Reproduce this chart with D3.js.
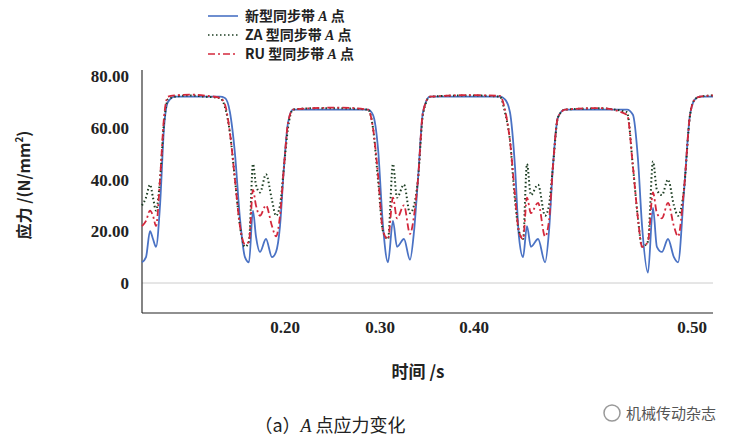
<!DOCTYPE html>
<html><head><meta charset="utf-8">
<script src="https://cdn.jsdelivr.net/npm/d3@7"></script>
<style>body{margin:0;background:#fff}svg{display:block}</style>
</head><body>
<script>
const times=[0.1000,0.1028,0.1056,0.1077,0.1098,0.1126,0.1154,0.1182,0.1231,0.1336,0.1441,0.1545,0.1580,0.1615,0.1650,0.1685,0.1720,0.1748,0.1776,0.1797,0.1825,0.1867,0.1909,0.1937,0.1965,0.1993,
0.2032,0.2084,0.2263,0.2579,0.2874,0.2926,0.2979,
0.3032,0.3085,0.3138,0.3181,0.3255,0.3319,0.3362,0.3404,0.3457,0.3532,0.3957,
0.4119,0.4142,0.4165,0.4188,0.4206,0.4225,0.4243,0.4261,0.4294,0.4326,0.4344,0.4362,0.4385,0.4417,0.4578,0.4702,0.4729,0.4752,0.4771,0.4798,0.4821,0.4839,0.4862,0.4890,0.4917,0.4936,0.4963,0.4991,
0.5014,0.5038,0.5100];
const newBelt=[8,10,20,17,14,30,60,70,72,72,72,72,71.5,66,50,25,10,8,28,18,12,17,10,12,22,45,
62,67,67,67,67,65,52,
22,8,24,14,17,9,20,40,66,72,72,
72,71,66,45,18,10,22,14,17,8,20,45,64,67,67,67,65,48,22,4,29,14,12,17,10,8,35,65,
71,72,72];
const zaBelt=[30,33,38,33,28,40,62,71,72,72.5,72,71.5,68,58,40,22,14,16,46,38,35,42,32,26,30,45,
60,67,67.5,67.5,67,60,40,
20,17,46,33,38,27,30,40,65,72,72.5,
72,66,55,32,20,17,46,34,38,26,30,45,64,67,67.5,66,45,25,14,16,47,36,34,40,30,26,36,65,
71,72,72.5];
const ruBelt=[22,24,28,26,22,40,64,72,72.5,72.8,72.4,71.5,69,58,40,22,15,16,36,30,26,30,22,18,26,45,
62,67,67.5,67.8,67,60,42,
20,17,33,25,30,19,26,40,66,72,72.6,
72.3,67,55,34,20,17,33,27,31,18,24,45,64,67,67.6,65,45,25,14,16,35,27,25,31,22,18,36,65,
71,72,72.5];
const xTicks=[0.2,0.3,0.4,0.5];
const yTicks=[0,20,40,60,80];
const seriesNames=["新型同步带","ZA 型同步带","RU 型同步带"];

const svg=d3.select("body").append("svg").attr("width",737).attr("height",446);
const x=d3.scaleLinear().domain([0.1,0.2,0.3,0.4,0.5,0.51]).range([142,285,380,474,692,713]);
const y=d3.scaleLinear().domain([0,80]).range([283,76]);
const serif="'Liberation Serif','DejaVu Serif',serif";
const cjk="'Noto Sans CJK SC',sans-serif";

svg.append("line").attr("x1",142).attr("x2",713).attr("y1",y(0)).attr("y2",y(0)).attr("stroke","#ccc");
svg.append("line").attr("x1",142).attr("x2",142).attr("y1",70).attr("y2",313).attr("stroke","#333").attr("stroke-width",1.2);
svg.append("line").attr("x1",142).attr("x2",713).attr("y1",313).attr("y2",313).attr("stroke","#222").attr("stroke-width",1.2);
svg.selectAll(".yt").data(yTicks).join("text").attr("x",129).attr("y",d=>y(d)+6)
 .attr("text-anchor","end").attr("font-family",serif).attr("font-weight","bold").attr("font-size",17).attr("fill","#222")
 .text(d=>d===0?"0":d.toFixed(2));
svg.selectAll(".xt").data(xTicks).join("text").attr("x",d=>x(d)).attr("y",333)
 .attr("text-anchor","middle").attr("font-family",serif).attr("font-weight","bold").attr("font-size",17).attr("fill","#222")
 .text(d=>d.toFixed(2));

const series=[
 {v:newBelt,c:"#4a72c4",dash:null,w:1.8},
 {v:zaBelt,c:"#1c3d22",dash:"1.5,2.5",w:2},
 {v:ruBelt,c:"#d3283c",dash:"7,3,2,3",w:1.8}];
const line=v=>d3.line().x((d,i)=>x(times[i])).y(d=>y(d)).curve(d3.curveMonotoneX)(v);
series.forEach(s=>{
 svg.append("path").attr("d",line(s.v)).attr("fill","none").attr("stroke",s.c).attr("stroke-width",s.w)
  .attr("stroke-dasharray",s.dash);
});

series.forEach((s,i)=>{
 const ly=16+i*19;
 svg.append("line").attr("x1",208).attr("x2",238).attr("y1",ly).attr("y2",ly).attr("stroke",s.c).attr("stroke-width",1.6).attr("stroke-dasharray",s.dash);
 const t=svg.append("text").attr("x",245).attr("y",ly+5).attr("font-size",14).attr("font-weight","bold").attr("fill","#222").attr("font-family",cjk);
 t.append("tspan").text(seriesNames[i]+" ");
 t.append("tspan").text("A").attr("font-style","italic").attr("font-family",serif);
 t.append("tspan").text(" 点");
});

svg.append("text").attr("transform","translate(30,185) rotate(-90)").attr("text-anchor","middle")
 .attr("font-family",cjk).attr("font-size",16).attr("font-weight","bold").attr("fill","#222")
 .html("应力 /(N/mm<tspan baseline-shift='super' font-size='10'>2</tspan>)");
svg.append("text").attr("x",418).attr("y",378).attr("text-anchor","middle").attr("font-family",cjk).attr("font-size",17).attr("font-weight","bold").attr("fill","#222").text("时间 /s");
const cap=svg.append("text").attr("x",330).attr("y",432).attr("text-anchor","middle").attr("font-family",cjk).attr("font-size",18).attr("fill","#222");
cap.append("tspan").text("（a）");
cap.append("tspan").text("A").attr("font-style","italic").attr("font-family",serif);
cap.append("tspan").text(" 点应力变化");
svg.append("circle").attr("cx",612).attr("cy",413).attr("r",8).attr("fill","none").attr("stroke","#999").attr("stroke-width",1.5);
svg.append("text").attr("x",626).attr("y",419).attr("font-family",cjk).attr("font-size",15).attr("fill","#555").text("机械传动杂志");
</script>
</body></html>
